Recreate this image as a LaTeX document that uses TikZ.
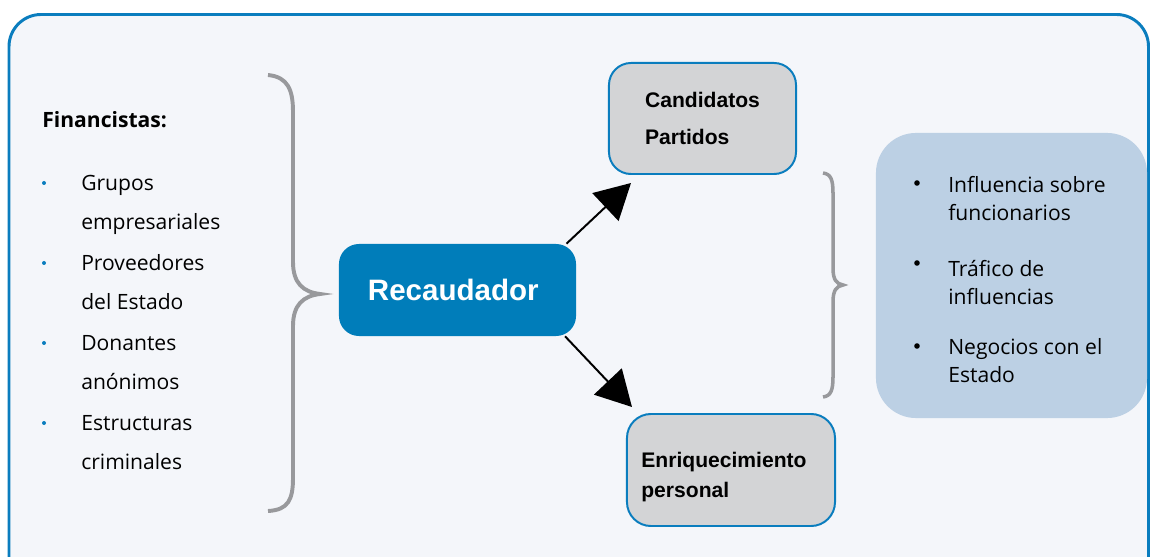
\documentclass[tikz,border=0pt]{standalone}
\usepackage{fontspec}
\setmainfont{Open Sans}
\newfontfamily\arialfont{Liberation Sans}
\usetikzlibrary{arrows.meta,calc}
\definecolor{marcoazul}{HTML}{0A7DBE}
\definecolor{recazul}{HTML}{007DBA}
\definecolor{fondo}{HTML}{F4F6FA}
\definecolor{grisclaro}{HTML}{D3D4D6}
\definecolor{gris}{HTML}{98999C}
\definecolor{celeste}{HTML}{BCD0E4}

\begin{document}
\begin{tikzpicture}[x=0.025cm, y=-0.025cm,
  marco/.style={draw=marcoazul, line width=2.1pt, fill=fondo, rounded corners=0.8cm},
  llave/.style={draw=gris, line width=2.8pt},
  caja/.style={draw=marcoazul, line width=1.4pt, fill=grisclaro, rounded corners=0.55cm,
    align=left, inner sep=0pt, font=\arialfont\bfseries},
  flecha/.style={-{Triangle[length=25pt,width=27pt]}, line width=1.4pt},
  lista/.style={anchor=base west, align=left, inner sep=0pt, font=\fontsize{15}{28.4}\selectfont},
  efecto/.style={anchor=base west, align=left, inner sep=0pt, font=\fontsize{15}{20}\selectfont}]
  \useasboundingbox (0,0) rectangle (1152,557);
  \clip (0,0) rectangle (1152,557);
  \draw[marco] (9,14.5) rectangle (1148.5,590);

  % financistas (base = ultima linea)
  \node[anchor=base west, inner sep=0pt, font=\fontsize{15}{18}\selectfont\bfseries] (fin) at (42,128) {Financistas:};
  \node[lista] (grupos) at (81,230) {Grupos\\empresariales};
  \node[lista] (prov) at (81,310) {Proveedores\\del Estado};
  \node[lista] (don) at (81,390) {Donantes\\an\'onimos};
  \node[lista] (estr) at (81,470) {Estructuras\\criminales};
  \foreach \y in {183,263,343,423}
    \fill[marcoazul] (44,\y) circle (2);

  \draw[llave] (268,75) .. controls (288,77) and (293,90) .. (293,112) -- (293,262)
    .. controls (293,283) and (303,292) .. (320,294)
    .. controls (303,296) and (293,305) .. (293,326) -- (293,478)
    .. controls (293,500) and (288,510) .. (268,511);

  % centro
  \node[fill=recazul, rounded corners=0.5cm, minimum width=5.925cm, minimum height=2.3cm,
    inner sep=0pt, text=white, font=\arialfont\bfseries\fontsize{21}{24}\selectfont]
    (rec) at (457.5,290) {Recaudador\hspace*{6pt}};
  \node[caja, minimum width=4.675cm, minimum height=2.775cm,
    font=\arialfont\bfseries\fontsize{15}{26}\selectfont]
    (cand) at (702.5,118.5) {Candidatos\\Partidos};
  \node[caja, minimum width=5.2cm, minimum height=2.8cm, rounded corners=0.6cm,
    font=\arialfont\bfseries\fontsize{15}{21}\selectfont]
    (enr) at (731,470) {\rule{0pt}{21pt}Enriquecimiento\hspace*{10pt}\\personal};
  \draw[flecha] ([xshift=-7pt]rec.north east) -- ($(cand.south west)+(23,8)$);
  \draw[flecha] ([xshift=-8pt]rec.south east) -- ($(enr.north west)+(6,-6)$);

  \draw[llave, line width=2.5pt] (823,173) .. controls (831,174) and (833,180) .. (833,193) -- (833,268)
    .. controls (833,279) and (836,284) .. (843,285)
    .. controls (836,286) and (833,291) .. (833,302) -- (833,377)
    .. controls (833,390) and (831,396) .. (823,397);

  % efectos
  \node[fill=celeste, rounded corners=1cm, minimum width=6.775cm, minimum height=7.125cm,
    inner sep=0pt] (efectos) at (1011.5,275.5) {};
  \node[efecto] (infl) at (948,221) {Influencia sobre\\funcionarios};
  \node[efecto] (traf) at (948,305) {Tr\'afico de\\influencias};
  \node[efecto] (neg) at (948,383) {Negocios con el\\Estado};
  \foreach \y in {183,263,346}
    \fill (917,\y) circle (2.8);
\end{tikzpicture}
\end{document}
